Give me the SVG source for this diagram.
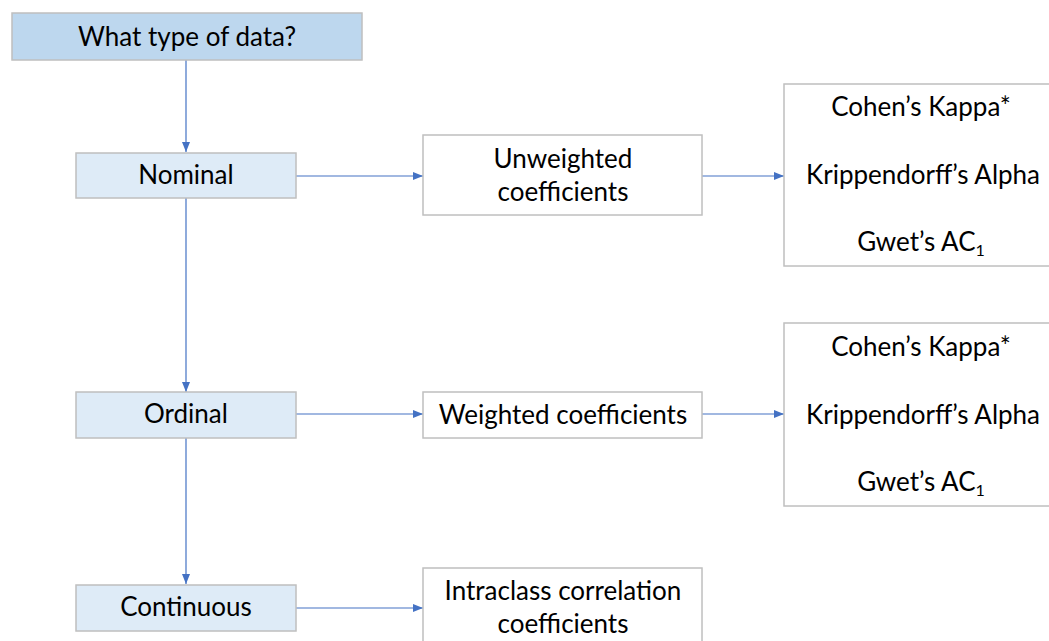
<svg xmlns="http://www.w3.org/2000/svg" width="1049" height="641" viewBox="0 0 1049 641">
<style>
.box{stroke:#BFBFBF;stroke-width:1.5}
.top{fill:#BDD7EE}
.lvl{fill:#DEEBF7}
.wht{fill:#FFFFFF}
.t{font-family:Lato,"Liberation Sans",sans-serif;font-size:26px;fill:#000;text-anchor:middle}
.c{stroke:#4472C4;stroke-width:1.2;fill:none;marker-end:url(#ah)}
</style>
<defs>
<marker id="ah" viewBox="0 0 10 8" refX="10" refY="4" markerWidth="10" markerHeight="8" markerUnits="userSpaceOnUse" orient="auto">
<path d="M0,0 L10,4 L0,8 Z" fill="#4472C4"/>
</marker>
</defs>
<rect width="1049" height="641" fill="#FFFFFF"/>
<g id="connectors">
<line class="c" x1="186" y1="60" x2="186" y2="152"/>
<line class="c" x1="186" y1="198" x2="186" y2="392"/>
<line class="c" x1="186" y1="438" x2="186" y2="584"/>
<line class="c" x1="296" y1="176" x2="423" y2="176"/>
<line class="c" x1="702" y1="176" x2="784" y2="176"/>
<line class="c" x1="296" y1="414" x2="423" y2="414"/>
<line class="c" x1="702" y1="414" x2="784" y2="414"/>
<line class="c" x1="296" y1="608" x2="423" y2="608"/>
</g>
<g id="q">
<rect class="box top" x="12" y="13" width="350" height="47"/>
<text class="t" x="187" y="46">What type of data?</text>
</g>
<g id="nominal">
<rect class="box lvl" x="76" y="153" width="220" height="45"/>
<text class="t" x="186" y="184">Nominal</text>
</g>
<g id="ordinal">
<rect class="box lvl" x="76" y="392" width="220" height="46"/>
<text class="t" x="186" y="423">Ordinal</text>
</g>
<g id="continuous">
<rect class="box lvl" x="76" y="585" width="220" height="46"/>
<text class="t" x="186" y="616">Continuous</text>
</g>
<g id="unweighted">
<rect class="box wht" x="423" y="135" width="279" height="80"/>
<text class="t" x="563" y="168">Unweighted</text>
<text class="t" x="563" y="201">coefficients</text>
</g>
<g id="weighted">
<rect class="box wht" x="423" y="392" width="279" height="46"/>
<text class="t" x="563" y="424">Weighted coefficients</text>
</g>
<g id="icc">
<rect class="box wht" x="423" y="568" width="279" height="80"/>
<text class="t" x="563" y="600">Intraclass correlation</text>
<text class="t" x="563" y="633">coefficients</text>
</g>
<g id="nominal-measures">
<rect class="box wht" x="784" y="84" width="270" height="182"/>
<text class="t" x="921" y="116">Cohen’s Kappa*</text>
<text class="t" x="923" y="184">Krippendorff’s Alpha</text>
<text class="t" x="921" y="251">Gwet’s AC<tspan font-size="16" dy="5">1</tspan></text>
</g>
<g id="ordinal-measures">
<rect class="box wht" x="784" y="323" width="270" height="183"/>
<text class="t" x="921" y="356">Cohen’s Kappa*</text>
<text class="t" x="923" y="424">Krippendorff’s Alpha</text>
<text class="t" x="921" y="491">Gwet’s AC<tspan font-size="16" dy="5">1</tspan></text>
</g>
</svg>
